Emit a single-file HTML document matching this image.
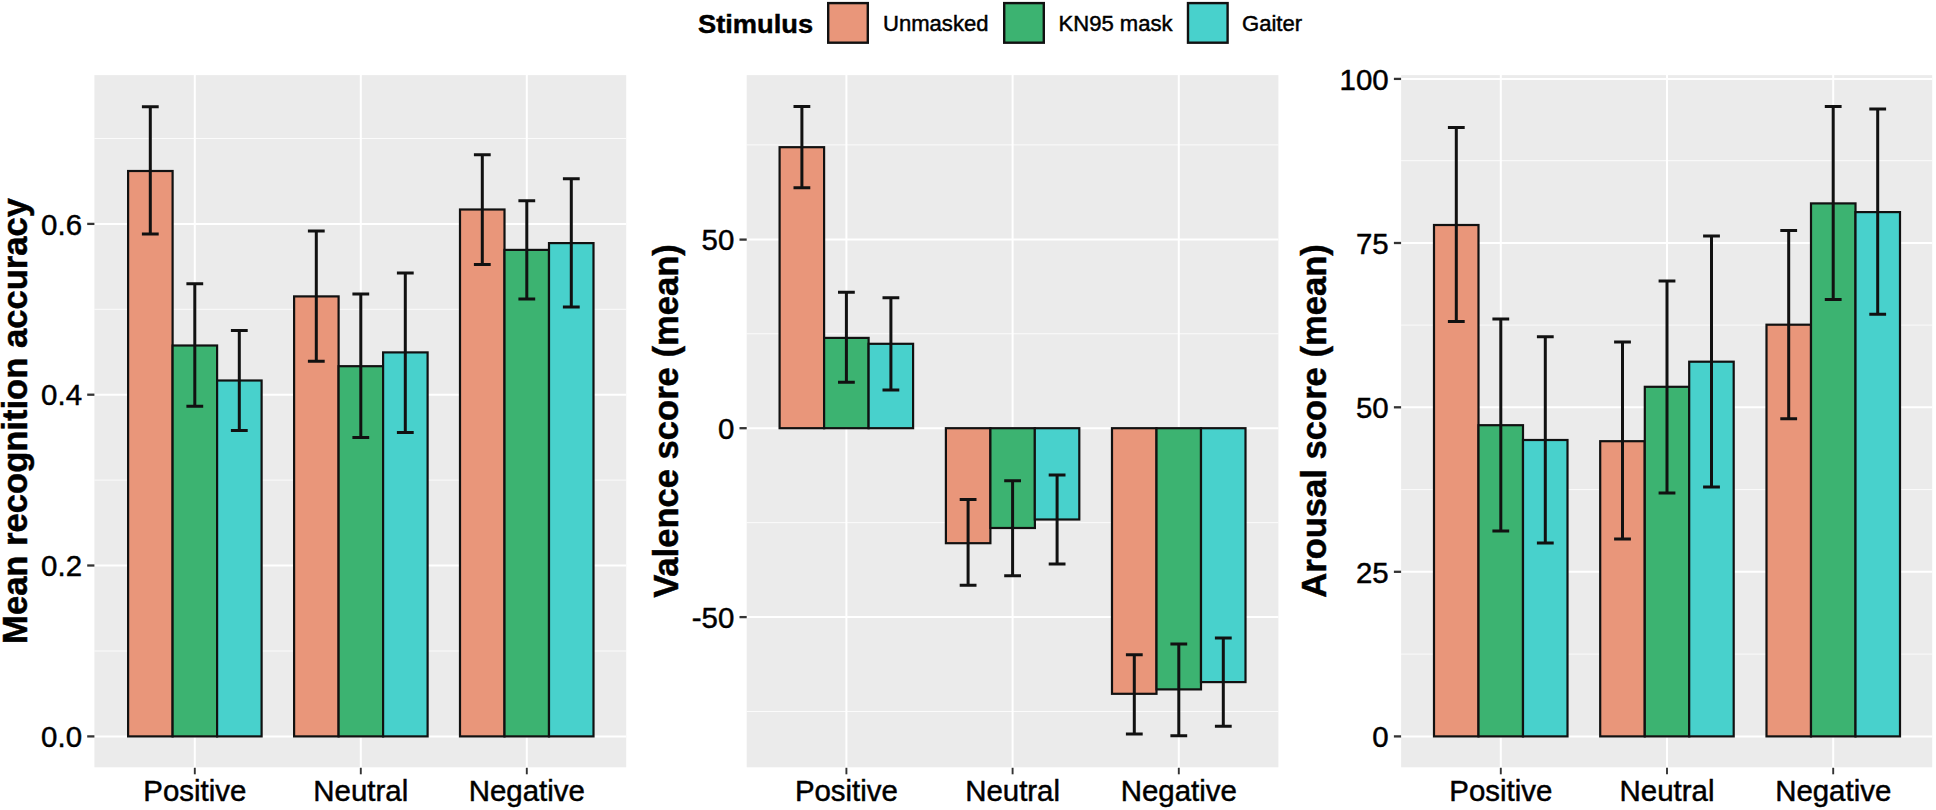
<!DOCTYPE html>
<html lang="en"><head><meta charset="utf-8"><title>Stimulus chart</title>
<style>html,body{margin:0;padding:0;background:#fff}body{width:1936px;height:810px;overflow:hidden}svg{display:block}</style>
</head><body>
<svg width="1936" height="810" viewBox="0 0 1936 810" font-family='"Liberation Sans", Arial, Helvetica, sans-serif'>
<rect width="1936" height="810" fill="#fff"/>
<text transform="translate(698.0,32.6) scale(1.022,1)" font-size="26.7" font-weight="bold" text-anchor="start" fill="#000" stroke="#000" stroke-width="0.45">Stimulus</text>
<rect x="828.2" y="3.1" width="39.6" height="39.6" fill="#E9967A" stroke="#111" stroke-width="2.4"/>
<text transform="translate(883.0,31.3) scale(1.022,1)" font-size="21.6" text-anchor="start" fill="#000" stroke="#000" stroke-width="0.45">Unmasked</text>
<rect x="1004.2" y="3.1" width="39.6" height="39.6" fill="#3CB371" stroke="#111" stroke-width="2.4"/>
<text transform="translate(1058.5,31.3) scale(1.022,1)" font-size="21.6" text-anchor="start" fill="#000" stroke="#000" stroke-width="0.45">KN95 mask</text>
<rect x="1188.0" y="3.1" width="39.6" height="39.6" fill="#48D1CC" stroke="#111" stroke-width="2.4"/>
<text transform="translate(1242.0,31.3) scale(1.022,1)" font-size="21.6" text-anchor="start" fill="#000" stroke="#000" stroke-width="0.45">Gaiter</text>
<rect x="94.4" y="75.1" width="531.8" height="692.1999999999999" fill="#EBEBEB"/>
<line x1="94.4" x2="626.2" y1="651.0" y2="651.0" stroke="#fff" stroke-width="1" stroke-opacity="0.8"/>
<line x1="94.4" x2="626.2" y1="480.1" y2="480.1" stroke="#fff" stroke-width="1" stroke-opacity="0.8"/>
<line x1="94.4" x2="626.2" y1="309.3" y2="309.3" stroke="#fff" stroke-width="1" stroke-opacity="0.8"/>
<line x1="94.4" x2="626.2" y1="138.5" y2="138.5" stroke="#fff" stroke-width="1" stroke-opacity="0.8"/>
<line x1="94.4" x2="626.2" y1="736.4" y2="736.4" stroke="#fff" stroke-width="2"/>
<line x1="94.4" x2="626.2" y1="565.5" y2="565.5" stroke="#fff" stroke-width="2"/>
<line x1="94.4" x2="626.2" y1="394.7" y2="394.7" stroke="#fff" stroke-width="2"/>
<line x1="94.4" x2="626.2" y1="223.9" y2="223.9" stroke="#fff" stroke-width="2"/>
<line x1="194.8" x2="194.8" y1="75.1" y2="767.3" stroke="#fff" stroke-width="2"/>
<line x1="360.8" x2="360.8" y1="75.1" y2="767.3" stroke="#fff" stroke-width="2"/>
<line x1="526.8" x2="526.8" y1="75.1" y2="767.3" stroke="#fff" stroke-width="2"/>
<rect x="128.1" y="171.0" width="44.5" height="565.4" fill="#E9967A" stroke="#111" stroke-width="2.2"/>
<rect x="172.6" y="345.5" width="44.5" height="390.9" fill="#3CB371" stroke="#111" stroke-width="2.2"/>
<rect x="217.1" y="380.5" width="44.5" height="355.9" fill="#48D1CC" stroke="#111" stroke-width="2.2"/>
<rect x="294.1" y="296.4" width="44.5" height="440.0" fill="#E9967A" stroke="#111" stroke-width="2.2"/>
<rect x="338.6" y="366.2" width="44.5" height="370.2" fill="#3CB371" stroke="#111" stroke-width="2.2"/>
<rect x="383.1" y="352.4" width="44.5" height="384.0" fill="#48D1CC" stroke="#111" stroke-width="2.2"/>
<rect x="460.0" y="209.5" width="44.5" height="526.9" fill="#E9967A" stroke="#111" stroke-width="2.2"/>
<rect x="504.5" y="249.9" width="44.5" height="486.5" fill="#3CB371" stroke="#111" stroke-width="2.2"/>
<rect x="549.0" y="243.1" width="44.5" height="493.3" fill="#48D1CC" stroke="#111" stroke-width="2.2"/>
<path d="M141.9 106.8H158.7M141.9 233.9H158.7M150.3 106.8V233.9" stroke="#111" stroke-width="3" fill="none"/>
<path d="M186.4 283.8H203.2M186.4 406.3H203.2M194.8 283.8V406.3" stroke="#111" stroke-width="3" fill="none"/>
<path d="M230.9 330.5H247.7M230.9 430.5H247.7M239.3 330.5V430.5" stroke="#111" stroke-width="3" fill="none"/>
<path d="M307.9 231.1H324.7M307.9 361.2H324.7M316.3 231.1V361.2" stroke="#111" stroke-width="3" fill="none"/>
<path d="M352.4 294.1H369.2M352.4 437.6H369.2M360.8 294.1V437.6" stroke="#111" stroke-width="3" fill="none"/>
<path d="M396.9 272.9H413.7M396.9 432.4H413.7M405.3 272.9V432.4" stroke="#111" stroke-width="3" fill="none"/>
<path d="M473.9 154.8H490.7M473.9 264.6H490.7M482.3 154.8V264.6" stroke="#111" stroke-width="3" fill="none"/>
<path d="M518.4 200.7H535.2M518.4 299.1H535.2M526.8 200.7V299.1" stroke="#111" stroke-width="3" fill="none"/>
<path d="M562.9 178.7H579.7M562.9 307.0H579.7M571.3 178.7V307.0" stroke="#111" stroke-width="3" fill="none"/>
<line x1="87.2" x2="94.4" y1="736.4" y2="736.4" stroke="#333" stroke-width="2.3"/>
<text transform="translate(82.0,747.1) scale(1.022,1)" font-size="28.8" text-anchor="end" fill="#000" stroke="#000" stroke-width="0.45">0.0</text>
<line x1="87.2" x2="94.4" y1="565.5" y2="565.5" stroke="#333" stroke-width="2.3"/>
<text transform="translate(82.0,576.2) scale(1.022,1)" font-size="28.8" text-anchor="end" fill="#000" stroke="#000" stroke-width="0.45">0.2</text>
<line x1="87.2" x2="94.4" y1="394.7" y2="394.7" stroke="#333" stroke-width="2.3"/>
<text transform="translate(82.0,405.4) scale(1.022,1)" font-size="28.8" text-anchor="end" fill="#000" stroke="#000" stroke-width="0.45">0.4</text>
<line x1="87.2" x2="94.4" y1="223.9" y2="223.9" stroke="#333" stroke-width="2.3"/>
<text transform="translate(82.0,234.6) scale(1.022,1)" font-size="28.8" text-anchor="end" fill="#000" stroke="#000" stroke-width="0.45">0.6</text>
<line x1="194.8" x2="194.8" y1="767.8" y2="774.3" stroke="#333" stroke-width="1.9"/>
<text transform="translate(194.8,801.2) scale(1.022,1)" font-size="28.8" text-anchor="middle" fill="#000" stroke="#000" stroke-width="0.45">Positive</text>
<line x1="360.8" x2="360.8" y1="767.8" y2="774.3" stroke="#333" stroke-width="1.9"/>
<text transform="translate(360.8,801.2) scale(1.022,1)" font-size="28.8" text-anchor="middle" fill="#000" stroke="#000" stroke-width="0.45">Neutral</text>
<line x1="526.8" x2="526.8" y1="767.8" y2="774.3" stroke="#333" stroke-width="1.9"/>
<text transform="translate(526.8,801.2) scale(1.022,1)" font-size="28.8" text-anchor="middle" fill="#000" stroke="#000" stroke-width="0.45">Negative</text>
<text transform="translate(27.4,421) rotate(-90)" font-size="34.6" font-weight="bold" text-anchor="middle" fill="#000" stroke="#000" stroke-width="0.45">Mean recognition accuracy</text>
<rect x="746.7" y="75.1" width="531.7" height="692.1999999999999" fill="#EBEBEB"/>
<line x1="746.7" x2="1278.4" y1="144.9" y2="144.9" stroke="#fff" stroke-width="1" stroke-opacity="0.8"/>
<line x1="746.7" x2="1278.4" y1="333.75" y2="333.75" stroke="#fff" stroke-width="1" stroke-opacity="0.8"/>
<line x1="746.7" x2="1278.4" y1="522.65" y2="522.65" stroke="#fff" stroke-width="1" stroke-opacity="0.8"/>
<line x1="746.7" x2="1278.4" y1="711.5" y2="711.5" stroke="#fff" stroke-width="1" stroke-opacity="0.8"/>
<line x1="746.7" x2="1278.4" y1="239.6" y2="239.6" stroke="#fff" stroke-width="2"/>
<line x1="746.7" x2="1278.4" y1="428.2" y2="428.2" stroke="#fff" stroke-width="2"/>
<line x1="746.7" x2="1278.4" y1="617.1" y2="617.1" stroke="#fff" stroke-width="2"/>
<line x1="846.4" x2="846.4" y1="75.1" y2="767.3" stroke="#fff" stroke-width="2"/>
<line x1="1012.6" x2="1012.6" y1="75.1" y2="767.3" stroke="#fff" stroke-width="2"/>
<line x1="1178.8" x2="1178.8" y1="75.1" y2="767.3" stroke="#fff" stroke-width="2"/>
<rect x="779.6" y="147.2" width="44.5" height="281.0" fill="#E9967A" stroke="#111" stroke-width="2.2"/>
<rect x="824.1" y="337.9" width="44.5" height="90.3" fill="#3CB371" stroke="#111" stroke-width="2.2"/>
<rect x="868.6" y="343.8" width="44.5" height="84.4" fill="#48D1CC" stroke="#111" stroke-width="2.2"/>
<rect x="945.9" y="428.2" width="44.5" height="115.0" fill="#E9967A" stroke="#111" stroke-width="2.2"/>
<rect x="990.4" y="428.2" width="44.5" height="99.8" fill="#3CB371" stroke="#111" stroke-width="2.2"/>
<rect x="1034.8" y="428.2" width="44.5" height="91.3" fill="#48D1CC" stroke="#111" stroke-width="2.2"/>
<rect x="1112.0" y="428.2" width="44.5" height="265.6" fill="#E9967A" stroke="#111" stroke-width="2.2"/>
<rect x="1156.5" y="428.2" width="44.5" height="261.2" fill="#3CB371" stroke="#111" stroke-width="2.2"/>
<rect x="1201.0" y="428.2" width="44.5" height="253.9" fill="#48D1CC" stroke="#111" stroke-width="2.2"/>
<path d="M793.5 106.4H810.3M793.5 187.7H810.3M801.9 106.4V187.7" stroke="#111" stroke-width="3" fill="none"/>
<path d="M838.0 292.3H854.8M838.0 382.2H854.8M846.4 292.3V382.2" stroke="#111" stroke-width="3" fill="none"/>
<path d="M882.5 297.8H899.3M882.5 390.1H899.3M890.9 297.8V390.1" stroke="#111" stroke-width="3" fill="none"/>
<path d="M959.7 499.4H976.5M959.7 585.2H976.5M968.1 499.4V585.2" stroke="#111" stroke-width="3" fill="none"/>
<path d="M1004.2 480.8H1021.0M1004.2 575.8H1021.0M1012.6 480.8V575.8" stroke="#111" stroke-width="3" fill="none"/>
<path d="M1048.7 475.0H1065.5M1048.7 564.1H1065.5M1057.1 475.0V564.1" stroke="#111" stroke-width="3" fill="none"/>
<path d="M1125.9 654.7H1142.7M1125.9 733.9H1142.7M1134.3 654.7V733.9" stroke="#111" stroke-width="3" fill="none"/>
<path d="M1170.4 644.1H1187.2M1170.4 735.8H1187.2M1178.8 644.1V735.8" stroke="#111" stroke-width="3" fill="none"/>
<path d="M1214.9 638.0H1231.7M1214.9 726.2H1231.7M1223.3 638.0V726.2" stroke="#111" stroke-width="3" fill="none"/>
<line x1="739.5" x2="746.7" y1="239.6" y2="239.6" stroke="#333" stroke-width="2.3"/>
<text transform="translate(734.3,250.3) scale(1.022,1)" font-size="28.8" text-anchor="end" fill="#000" stroke="#000" stroke-width="0.45">50</text>
<line x1="739.5" x2="746.7" y1="428.2" y2="428.2" stroke="#333" stroke-width="2.3"/>
<text transform="translate(734.3,438.9) scale(1.022,1)" font-size="28.8" text-anchor="end" fill="#000" stroke="#000" stroke-width="0.45">0</text>
<line x1="739.5" x2="746.7" y1="617.1" y2="617.1" stroke="#333" stroke-width="2.3"/>
<text transform="translate(734.3,627.8) scale(1.022,1)" font-size="28.8" text-anchor="end" fill="#000" stroke="#000" stroke-width="0.45">-50</text>
<line x1="846.4" x2="846.4" y1="767.8" y2="774.3" stroke="#333" stroke-width="1.9"/>
<text transform="translate(846.4,801.2) scale(1.022,1)" font-size="28.8" text-anchor="middle" fill="#000" stroke="#000" stroke-width="0.45">Positive</text>
<line x1="1012.6" x2="1012.6" y1="767.8" y2="774.3" stroke="#333" stroke-width="1.9"/>
<text transform="translate(1012.6,801.2) scale(1.022,1)" font-size="28.8" text-anchor="middle" fill="#000" stroke="#000" stroke-width="0.45">Neutral</text>
<line x1="1178.8" x2="1178.8" y1="767.8" y2="774.3" stroke="#333" stroke-width="1.9"/>
<text transform="translate(1178.8,801.2) scale(1.022,1)" font-size="28.8" text-anchor="middle" fill="#000" stroke="#000" stroke-width="0.45">Negative</text>
<text transform="translate(678.0,421) rotate(-90)" font-size="34.6" font-weight="bold" text-anchor="middle" fill="#000" stroke="#000" stroke-width="0.45">Valence score (mean)</text>
<rect x="1401.1" y="75.1" width="531.1" height="692.1999999999999" fill="#EBEBEB"/>
<line x1="1401.1" x2="1932.2" y1="654.1" y2="654.1" stroke="#fff" stroke-width="1" stroke-opacity="0.8"/>
<line x1="1401.1" x2="1932.2" y1="489.6" y2="489.6" stroke="#fff" stroke-width="1" stroke-opacity="0.8"/>
<line x1="1401.1" x2="1932.2" y1="325.1" y2="325.1" stroke="#fff" stroke-width="1" stroke-opacity="0.8"/>
<line x1="1401.1" x2="1932.2" y1="160.7" y2="160.7" stroke="#fff" stroke-width="1" stroke-opacity="0.8"/>
<line x1="1401.1" x2="1932.2" y1="736.4" y2="736.4" stroke="#fff" stroke-width="2"/>
<line x1="1401.1" x2="1932.2" y1="571.8" y2="571.8" stroke="#fff" stroke-width="2"/>
<line x1="1401.1" x2="1932.2" y1="407.3" y2="407.3" stroke="#fff" stroke-width="2"/>
<line x1="1401.1" x2="1932.2" y1="243.0" y2="243.0" stroke="#fff" stroke-width="2"/>
<line x1="1401.1" x2="1932.2" y1="78.9" y2="78.9" stroke="#fff" stroke-width="2"/>
<line x1="1500.8" x2="1500.8" y1="75.1" y2="767.3" stroke="#fff" stroke-width="2"/>
<line x1="1667.0" x2="1667.0" y1="75.1" y2="767.3" stroke="#fff" stroke-width="2"/>
<line x1="1833.2" x2="1833.2" y1="75.1" y2="767.3" stroke="#fff" stroke-width="2"/>
<rect x="1434.0" y="225.0" width="44.5" height="511.4" fill="#E9967A" stroke="#111" stroke-width="2.2"/>
<rect x="1478.5" y="425.2" width="44.5" height="311.2" fill="#3CB371" stroke="#111" stroke-width="2.2"/>
<rect x="1523.0" y="440.0" width="44.5" height="296.4" fill="#48D1CC" stroke="#111" stroke-width="2.2"/>
<rect x="1600.2" y="441.2" width="44.5" height="295.2" fill="#E9967A" stroke="#111" stroke-width="2.2"/>
<rect x="1644.8" y="386.8" width="44.5" height="349.6" fill="#3CB371" stroke="#111" stroke-width="2.2"/>
<rect x="1689.2" y="361.7" width="44.5" height="374.7" fill="#48D1CC" stroke="#111" stroke-width="2.2"/>
<rect x="1766.5" y="324.7" width="44.5" height="411.7" fill="#E9967A" stroke="#111" stroke-width="2.2"/>
<rect x="1811.0" y="203.4" width="44.5" height="533.0" fill="#3CB371" stroke="#111" stroke-width="2.2"/>
<rect x="1855.5" y="212.1" width="44.5" height="524.3" fill="#48D1CC" stroke="#111" stroke-width="2.2"/>
<path d="M1447.9 127.5H1464.7M1447.9 321.5H1464.7M1456.3 127.5V321.5" stroke="#111" stroke-width="3" fill="none"/>
<path d="M1492.4 318.9H1509.2M1492.4 531.1H1509.2M1500.8 318.9V531.1" stroke="#111" stroke-width="3" fill="none"/>
<path d="M1536.9 336.7H1553.7M1536.9 543.0H1553.7M1545.3 336.7V543.0" stroke="#111" stroke-width="3" fill="none"/>
<path d="M1614.1 342.0H1630.9M1614.1 539.0H1630.9M1622.5 342.0V539.0" stroke="#111" stroke-width="3" fill="none"/>
<path d="M1658.6 280.9H1675.4M1658.6 493.1H1675.4M1667.0 280.9V493.1" stroke="#111" stroke-width="3" fill="none"/>
<path d="M1703.1 235.9H1719.9M1703.1 487.0H1719.9M1711.5 235.9V487.0" stroke="#111" stroke-width="3" fill="none"/>
<path d="M1780.3 230.4H1797.1M1780.3 418.8H1797.1M1788.7 230.4V418.8" stroke="#111" stroke-width="3" fill="none"/>
<path d="M1824.8 106.5H1841.6M1824.8 299.5H1841.6M1833.2 106.5V299.5" stroke="#111" stroke-width="3" fill="none"/>
<path d="M1869.3 109.1H1886.1M1869.3 314.2H1886.1M1877.7 109.1V314.2" stroke="#111" stroke-width="3" fill="none"/>
<line x1="1393.9" x2="1401.1" y1="736.4" y2="736.4" stroke="#333" stroke-width="2.3"/>
<text transform="translate(1388.7,747.1) scale(1.022,1)" font-size="28.8" text-anchor="end" fill="#000" stroke="#000" stroke-width="0.45">0</text>
<line x1="1393.9" x2="1401.1" y1="571.8" y2="571.8" stroke="#333" stroke-width="2.3"/>
<text transform="translate(1388.7,582.5) scale(1.022,1)" font-size="28.8" text-anchor="end" fill="#000" stroke="#000" stroke-width="0.45">25</text>
<line x1="1393.9" x2="1401.1" y1="407.3" y2="407.3" stroke="#333" stroke-width="2.3"/>
<text transform="translate(1388.7,418.0) scale(1.022,1)" font-size="28.8" text-anchor="end" fill="#000" stroke="#000" stroke-width="0.45">50</text>
<line x1="1393.9" x2="1401.1" y1="243.0" y2="243.0" stroke="#333" stroke-width="2.3"/>
<text transform="translate(1388.7,253.7) scale(1.022,1)" font-size="28.8" text-anchor="end" fill="#000" stroke="#000" stroke-width="0.45">75</text>
<line x1="1393.9" x2="1401.1" y1="78.9" y2="78.9" stroke="#333" stroke-width="2.3"/>
<text transform="translate(1388.7,89.6) scale(1.022,1)" font-size="28.8" text-anchor="end" fill="#000" stroke="#000" stroke-width="0.45">100</text>
<line x1="1500.8" x2="1500.8" y1="767.8" y2="774.3" stroke="#333" stroke-width="1.9"/>
<text transform="translate(1500.8,801.2) scale(1.022,1)" font-size="28.8" text-anchor="middle" fill="#000" stroke="#000" stroke-width="0.45">Positive</text>
<line x1="1667.0" x2="1667.0" y1="767.8" y2="774.3" stroke="#333" stroke-width="1.9"/>
<text transform="translate(1667.0,801.2) scale(1.022,1)" font-size="28.8" text-anchor="middle" fill="#000" stroke="#000" stroke-width="0.45">Neutral</text>
<line x1="1833.2" x2="1833.2" y1="767.8" y2="774.3" stroke="#333" stroke-width="1.9"/>
<text transform="translate(1833.2,801.2) scale(1.022,1)" font-size="28.8" text-anchor="middle" fill="#000" stroke="#000" stroke-width="0.45">Negative</text>
<text transform="translate(1325.5,421) rotate(-90)" font-size="34.6" font-weight="bold" text-anchor="middle" fill="#000" stroke="#000" stroke-width="0.45">Arousal score (mean)</text>
</svg>
</body></html>
